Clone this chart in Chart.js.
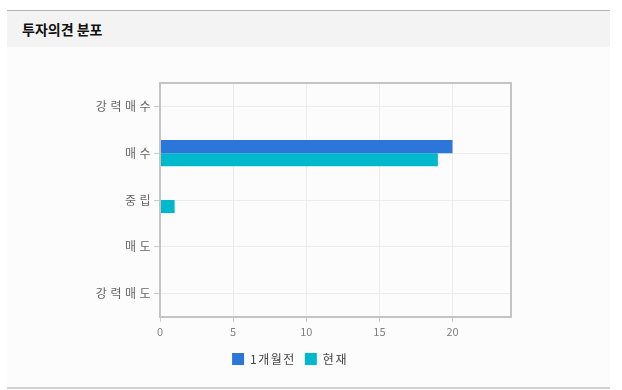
<!DOCTYPE html>
<html>
<head>
<meta charset="utf-8">
<script src="https://cdn.jsdelivr.net/npm/chart.js@4"></script>
<style>
  body { margin: 0; background: #fff; font-family: "Noto Sans CJK KR", sans-serif; }
  #box { position: absolute; left: 7px; top: 10px; width: 603px; height: 376px;
         border-top: 1px solid #b4b4b4; border-bottom: 2px solid #cfcfcf; background: #fcfcfc; }
  #head { height: 36px; background: #f3f3f3; font-size: 14px; font-weight: bold;
          color: #111; line-height: 36px; padding-left: 15px; }
  #myChart { position: absolute; left: 0; top: 37px; }
</style>
</head>
<body>
<div id="box">
  <div id="head">투자의견 분포</div>
  <canvas id="myChart" width="603" height="337"></canvas>
</div>
<script>
const categories = ["강력매수", "매수", "중립", "매도", "강력매도"];
const seriesNames = ["1개월전", "현재"];
const monthAgo = [0, 20, 0, 0, 0];
const current = [0, 19, 1, 0, 0];
const xTicks = [0, 5, 10, 15, 20];

const ctx = document.getElementById("myChart");

// wide letter spacing like the original chart font, plus a box round the plot
const frame = {
  id: "frame",
  beforeUpdate(chart) { chart.ctx.letterSpacing = "1.5px"; },
  beforeDraw(chart) { chart.ctx.letterSpacing = "1.5px"; },
  afterDatasetsDraw(chart) {
    const a = chart.chartArea;
    const c = chart.ctx;
    c.save();
    c.strokeStyle = "#c4c4c4";
    c.lineWidth = 2;
    c.strokeRect(a.left, a.top, a.right - a.left, a.bottom - a.top);
    c.restore();
  },
};

function spacedLabels(scale, spacing) {
  scale.drawLabels = function (area) {
    const old = this.ctx.letterSpacing;
    this.ctx.letterSpacing = spacing;
    Object.getPrototypeOf(this).drawLabels.call(this, area);
    this.ctx.letterSpacing = old;
  };
}

new Chart(ctx, {
  type: "bar",
  data: {
    labels: categories,
    datasets: [
      {
        label: seriesNames[0],
        data: monthAgo,
        backgroundColor: "#2c76d9",
        categoryPercentage: 0.56,
        barPercentage: 1,
      },
      {
        label: seriesNames[1],
        data: current,
        backgroundColor: "#00b8cc",
        categoryPercentage: 0.56,
        barPercentage: 1,
      },
    ],
  },
  plugins: [frame],
  options: {
    responsive: false,
    animation: false,
    indexAxis: "y",
    layout: { padding: { top: 35, right: 99, left: 62, bottom: 10 } },
    scales: {
      x: {
        min: 0,
        max: 24,
        afterBuildTicks: (s) => { s.ticks = xTicks.map((v) => ({ value: v })); },
        afterFit: (s) => { s.height = 27; spacedLabels(s, "0px"); },
        grid: { color: "#ececec", tickColor: "#cccccc", tickLength: 5 },
        border: { color: "#c4c4c4", width: 2 },
        ticks: { color: "#808080", font: { family: "Noto Sans CJK KR", size: 11 }, padding: 3 },
      },
      y: {
        afterFit: (s) => { s.width = 91; spacedLabels(s, "3.5px"); },
        grid: { offset: false, color: "#ececec", tickColor: "#cccccc", tickLength: 6 },
        border: { color: "#c4c4c4", width: 2 },
        ticks: { color: "#666", font: { family: "Noto Sans CJK KR", size: 12 }, padding: 0 },
      },
    },
    plugins: {
      legend: {
        position: "bottom",
        labels: {
          boxWidth: 12,
          boxHeight: 12,
          padding: 9,
          color: "#444",
          font: { family: "Noto Sans CJK KR", size: 12 },
        },
      },
      tooltip: { enabled: false },
    },
  },
});
</script>
</body>
</html>
